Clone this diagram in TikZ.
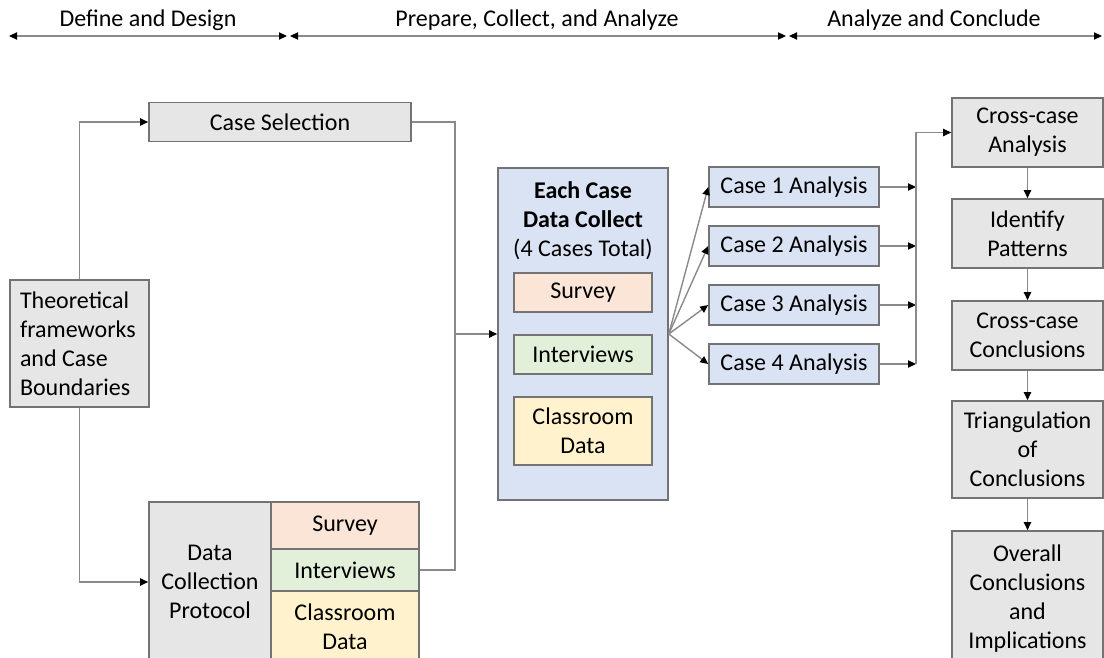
\documentclass[tikz,border=0pt]{standalone}
\usepackage{fontspec}
\setmainfont{Carlito}
\usepackage{tikz}
\usetikzlibrary{arrows.meta,calc,positioning}

\definecolor{boxgray}{HTML}{E7E6E6}
\definecolor{boxblue}{HTML}{DAE3F3}
\definecolor{boxorange}{HTML}{FBE5D6}
\definecolor{boxgreen}{HTML}{E2F0D9}
\definecolor{boxyellow}{HTML}{FFF2CC}
\definecolor{boxedge}{HTML}{737373}
\definecolor{linkgray}{HTML}{8A8A8A}

\tikzset{
  box/.style={draw=boxedge, line width=0.8pt, inner sep=0pt, align=center,
    font=\fontsize{12}{14.5}\selectfont},
  sz/.style 2 args={minimum width=#1*0.5pt, minimum height=#2*0.5pt},
  link/.style={draw=linkgray, line width=0.7pt},
  tip/.style={link, -{Triangle[length=4pt,width=3.6pt,color=black]}},
  span/.style={link, {Triangle[length=4pt,width=3.6pt,color=black]}-{Triangle[length=4pt,width=3.6pt,color=black]}},
  head/.style={font=\fontsize{12}{14.5}\selectfont, inner sep=0pt},
}

\begin{document}
\begin{tikzpicture}[x=0.5pt,y=-0.5pt]

\useasboundingbox (0,0) rectangle (1104,658);
\clip (0,0) rectangle (1104,658);

% phases along the top
\coordinate (a0) at (9,36);
\coordinate (a1) at (287,36);
\coordinate (b0) at (290,36);
\coordinate (b1) at (786,36);
\coordinate (c0) at (789,36);
\coordinate (c1) at (1102,36);

\draw[span] (a0) -- (a1);
\draw[span] (b0) -- (b1);
\draw[span] (c0) -- (c1);

\node[head] (define) at (148,20) {Define and Design};
\node[head] (prepare) at (537,20) {Prepare, Collect, and Analyze};
\node[head] (conclude) at (934,20) {Analyze and Conclude};

% design stage
\node[box, fill=boxgray, sz={262}{39}] (sel) at (280,122) {Case Selection};
\node[box, fill=boxgray, sz={139}{127}, align=flush left, text width=59.5pt, inner xsep=5pt] (theo) at (79.5,343.5)
  {Theoretical\\frameworks\\and Case\\Boundaries};

\node[box, fill=boxgray, sz={122}{160}] (dcp) at (210,582) {Data\\Collection\\Protocol};
\node[box, fill=boxorange, sz={148}{47}] (dsv) at (345,525.5) {Survey};
\node[box, fill=boxgreen, sz={148}{42}] (din) at (345,570) {Interviews};
\node[box, fill=boxyellow, sz={148}{71}] (dcl) at (345,626.5) {Classroom\\Data};

% data collection, one run per case
\node[box, fill=boxblue, sz={170}{332}] (each) at (583,334) {};
\node[box, draw=none, sz={160}{90}] (eachttl) at (583,221)
  {\textbf{Each Case}\\\textbf{Data Collect}\\(4 Cases Total)};
\node[box, fill=boxorange, sz={138}{39}] (esv) at (583,292.5) {Survey};
\node[box, fill=boxgreen, sz={138}{39}] (ein) at (583,354.5) {Interviews};
\node[box, fill=boxyellow, sz={138}{68}] (ecl) at (583,431) {Classroom\\Data};

\node[box, fill=boxblue, sz={170}{40}] (c1) at (794,187) {Case 1 Analysis};
\node[box, fill=boxblue, sz={170}{40}] (c2) at (794,246) {Case 2 Analysis};
\node[box, fill=boxblue, sz={170}{40}] (c3) at (794,305) {Case 3 Analysis};
\node[box, fill=boxblue, sz={170}{40}] (c4) at (794,364) {Case 4 Analysis};

% conclusions
\node[box, fill=boxgray, sz={151}{69}] (xa) at (1027.5,132.5) {Cross-case\\Analysis};
\node[box, fill=boxgray, sz={151}{69}] (ip) at (1027.5,233.5) {Identify\\Patterns};
\node[box, fill=boxgray, sz={151}{69}] (xc) at (1027.5,335.5) {Cross-case\\Conclusions};
\node[box, fill=boxgray, sz={151}{97}] (tri) at (1027.5,449.5) {Triangulation\\of\\Conclusions};
\node[box, fill=boxgray, sz={151}{135}] (ovr) at (1027.5,598.5) {Overall\\Conclusions\\and\\Implications};

% connectors
\coordinate (jn) at (455,334);
\coordinate (bus) at (916,0);

\draw[tip] (theo.north) |- (sel.west);
\draw[tip] (theo.south) |- (dcp.west);

\draw[link] (sel.east) -| (jn);
\draw[link] (din.east) -| (jn);
\draw[tip] (jn) -- (each.west);

\foreach \i in {1,...,4}{
  \draw[tip] (each.east) -- (c\i.west);
  \draw[tip] (c\i.east) -- (c\i.east -| bus);
}
\draw[tip] (c4.east -| bus) |- (xa.west);

\draw[tip] (xa) -- (ip);
\draw[tip] (ip) -- (xc);
\draw[tip] (xc) -- (tri);
\draw[tip] (tri) -- (ovr);

\end{tikzpicture}
\end{document}
